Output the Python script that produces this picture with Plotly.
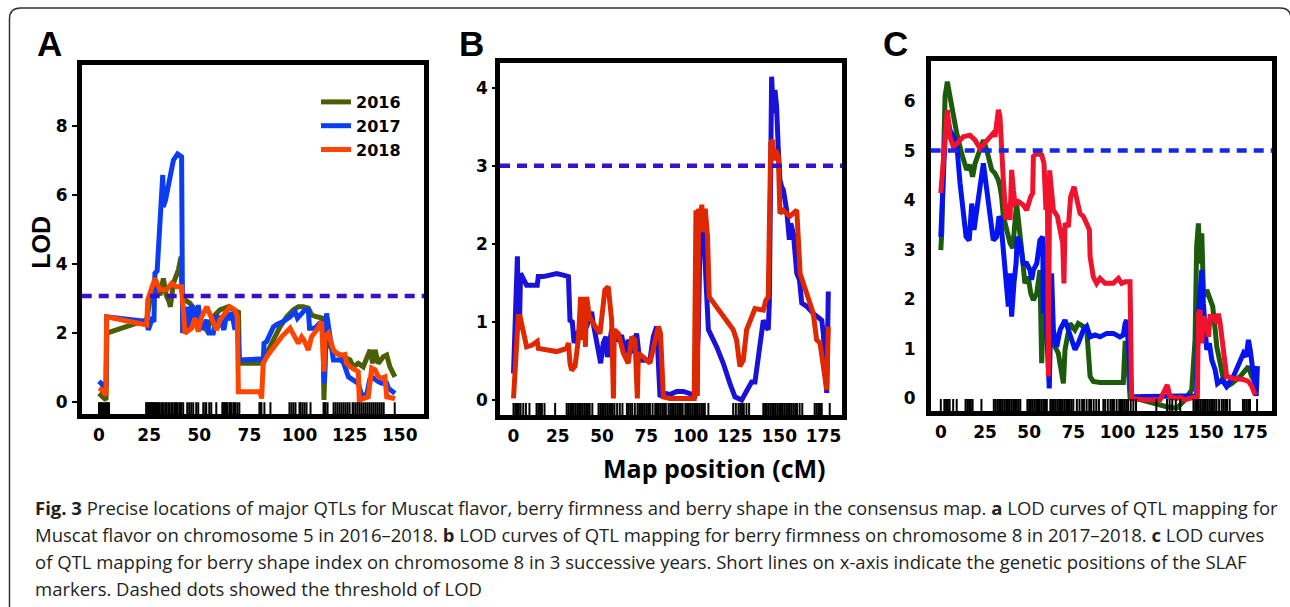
import plotly.graph_objects as go

W, H = 1290, 607

# ---------------- data ----------------
years = ["2016", "2017", "2018"]

A2016_x = [0, 1.5, 3.5, 3.9, 23.8, 25.4, 27.1, 28.8, 30.5, 32.1, 33.5, 35.0, 35.6, 37.1, 39.6, 40.9, 41.3, 42.9, 45.4, 47.9, 50.4, 53.7, 57.0, 60.3, 64.5, 67.0, 69.6, 70.0, 82.0, 83.6, 87.0, 90.3, 93.6, 96.9, 99.4, 101.9, 104.4, 106.1, 108.6, 111.6, 112.2, 113.2, 115.2, 118.5, 121.9, 125.2, 126.8, 129.3, 131.8, 135.2, 136.5, 137.7, 139.3, 141.8, 143.5, 145.1, 147.6]
A2016_y = [0.25, 0.15, 0.06, 2.0, 2.38, 2.96, 3.15, 3.25, 3.1, 3.58, 3.1, 2.9, 2.76, 3.44, 3.83, 4.21, 3.2, 2.96, 2.86, 2.67, 2.38, 2.09, 2.47, 2.67, 2.76, 2.67, 2.6, 1.12, 1.12, 1.41, 1.8, 2.18, 2.47, 2.67, 2.76, 2.76, 2.72, 2.52, 2.47, 2.43, 0.06, 2.0, 1.6, 1.41, 1.31, 1.22, 1.02, 1.12, 1.02, 1.51, 1.12, 1.51, 1.12, 1.31, 1.36, 1.02, 0.73]

A2017_x = [0, 1.5, 3.0, 3.5, 3.8, 23.8, 24.6, 26.3, 27.4, 27.9, 29.0, 30.4, 31.8, 32.1, 33.2, 37.1, 39.2, 41.2, 41.7, 43.7, 45.0, 46.2, 47.9, 49.5, 51.2, 53.7, 54.9, 57.0, 58.7, 60.3, 62.3, 63.7, 65.3, 66.2, 67.8, 68.7, 70.0, 82.0, 82.3, 83.6, 87.0, 88.7, 91.9, 95.3, 97.8, 99.0, 101.0, 102.7, 104.4, 105.0, 107.7, 110.0, 111.6, 112.4, 113.5, 116.0, 116.9, 120.2, 121.9, 124.4, 126.8, 129.3, 131.0, 133.5, 135.0, 136.7, 139.3, 141.0, 143.5, 144.3, 147.6]
A2017_y = [0.6, 0.5, 0.42, 0.4, 2.47, 2.33, 2.09, 2.38, 2.33, 3.73, 3.8, 5.57, 6.58, 5.66, 5.86, 7.01, 7.19, 7.11, 2.0, 2.76, 2.09, 2.81, 2.23, 2.81, 2.1, 2.38, 2.0, 2.0, 2.5, 2.4, 2.09, 2.57, 2.38, 2.6, 2.09, 2.5, 1.22, 1.25, 1.7, 1.75, 2.18, 2.25, 2.33, 2.47, 2.62, 2.43, 2.55, 2.67, 2.67, 2.14, 2.14, 2.28, 2.3, 0.54, 2.57, 1.6, 1.22, 1.22, 1.15, 0.73, 0.64, 0.54, 0.2, 0.2, 0.64, 0.7, 0.59, 0.54, 0.54, 0.4, 0.25]

A2018_x = [0, 1.5, 3.5, 3.8, 23.8, 24.3, 25.4, 27.9, 30.4, 33.7, 36.2, 38.7, 41.2, 42.9, 46.2, 47.9, 49.5, 51.2, 53.7, 56.2, 58.7, 60.3, 62.8, 65.3, 67.8, 69.0, 69.5, 80.3, 81.1, 81.9, 83.6, 87.0, 91.1, 95.3, 96.9, 99.4, 101.1, 102.2, 104.4, 106.0, 108.6, 111.0, 112.2, 112.7, 114.4, 116.9, 118.5, 121.0, 122.7, 123.5, 125.2, 129.3, 129.8, 132.7, 134.3, 136.0, 137.7, 139.3, 141.0, 142.6, 143.5, 147.6]
A2018_y = [0.4, 0.35, 0.2, 2.47, 2.23, 2.96, 3.15, 3.58, 3.25, 3.25, 3.44, 3.34, 3.34, 1.99, 2.14, 2.43, 2.04, 2.47, 2.76, 2.38, 2.09, 2.38, 2.57, 2.76, 2.67, 2.47, 0.3, 0.3, 0.1, 1.12, 1.31, 1.6, 1.89, 2.14, 1.99, 1.7, 1.89, 1.8, 1.51, 1.89, 2.09, 2.33, 0.88, 1.89, 1.99, 1.51, 1.41, 1.36, 1.38, 1.12, 1.02, 0.88, 0.06, 0.1, 0.15, 0.98, 0.93, 0.73, 0.69, 0.73, 0.15, 0.1]

B2017_x = [0, 1.4, 2.2, 2.7, 3.3, 4.0, 5.5, 7.4, 13.4, 14.0, 16.8, 24.4, 28.1, 31.0, 31.9, 33.2, 34.2, 35.6, 41.3, 44.1, 45.0, 46.9, 49.2, 50.7, 52.2, 53.0, 55.4, 57.5, 59.2, 61.0, 62.9, 64.8, 66.7, 69.5, 71.0, 72.3, 77.0, 78.9, 80.8, 82.7, 84.6, 88.3, 92.1, 95.9, 99.6, 102.4, 104.3, 105.3, 106.8, 107.5, 109.0, 110.0, 114.7, 118.4, 122.2, 125.0, 128.8, 131.6, 134.4, 136.3, 139.1, 141.0, 142.5, 143.8, 144.4, 144.8, 145.2, 145.7, 146.7, 147.6, 148.5, 149.5, 150.4, 151.4, 152.3, 154.2, 155.7, 156.5, 158.0, 159.9, 161.4, 162.7, 165.5, 169.2, 172.6, 174.0, 174.9, 176.8, 177.7]
B2017_y = [0.34, 1.28, 1.84, 1.07, 0.9, 1.62, 1.54, 1.47, 1.47, 1.58, 1.58, 1.62, 1.6, 1.58, 1.02, 1.0, 0.73, 0.85, 0.94, 1.13, 0.98, 0.77, 0.47, 0.73, 0.81, 0.55, 0.9, 0.78, 0.77, 0.83, 0.6, 0.77, 0.6, 0.85, 0.55, 0.51, 0.51, 0.81, 0.94, 0.04, 0.09, 0.07, 0.11, 0.11, 0.09, 0.06, 0.85, 2.05, 2.39, 2.05, 1.2, 0.9, 0.68, 0.47, 0.21, 0.04, 0.0, 0.13, 0.23, 0.23, 0.68, 1.02, 0.94, 0.9, 1.24, 1.71, 2.99, 4.14, 3.67, 3.97, 3.76, 3.2, 2.82, 2.73, 2.69, 2.43, 2.05, 2.26, 2.13, 1.62, 1.54, 1.24, 1.2, 1.11, 1.05, 1.02, 0.85, 0.09, 1.39]

B2018_x = [0, 1.4, 2.7, 3.7, 5.5, 7.4, 10.3, 13.4, 14.0, 24.4, 30.0, 31.0, 31.9, 32.8, 34.7, 36.6, 37.9, 39.0, 39.8, 40.6, 41.3, 42.8, 45.0, 46.9, 48.8, 51.6, 53.5, 55.4, 56.4, 56.9, 59.2, 62.0, 64.8, 66.7, 68.6, 69.9, 70.5, 73.3, 77.0, 81.8, 83.0, 84.6, 88.3, 95.9, 102.0, 103.0, 103.8, 104.5, 105.3, 106.3, 107.2, 108.2, 109.5, 110.5, 124.0, 125.9, 127.8, 129.7, 131.6, 136.3, 141.0, 142.5, 143.8, 144.4, 145.2, 146.3, 147.0, 148.1, 149.5, 150.4, 152.3, 156.0, 159.9, 161.8, 163.7, 169.2, 171.1, 173.0, 176.8, 177.7]
B2018_y = [0.02, 0.68, 1.07, 1.07, 0.85, 0.68, 0.7, 0.75, 0.66, 0.62, 0.66, 0.73, 0.47, 0.38, 0.43, 0.77, 1.32, 0.77, 1.32, 0.68, 1.32, 1.07, 0.98, 0.9, 0.85, 1.41, 1.45, 1.02, 0.02, 0.9, 0.85, 0.6, 0.47, 0.81, 0.77, 0.02, 0.6, 0.55, 0.47, 0.94, 0.85, 0.04, 0.02, 0.02, 0.02, 2.43, 0.05, 2.45, 2.3, 2.5, 2.15, 2.45, 2.1, 1.32, 0.9, 0.77, 0.43, 0.51, 0.9, 1.17, 1.15, 1.28, 1.32, 2.18, 3.29, 3.33, 3.07, 3.2, 3.12, 2.39, 2.43, 2.35, 2.43, 1.62, 1.49, 1.11, 0.77, 0.73, 0.13, 0.94]

C2016_x = [0, 0.6, 2.4, 3.7, 5.2, 7.1, 9.0, 11.8, 14.6, 16.5, 18.0, 19.4, 22.2, 24.1, 26.0, 28.8, 30.7, 32.6, 33.5, 34.4, 35.4, 37.3, 39.2, 40.7, 42.0, 42.9, 45.8, 47.6, 49.5, 50.9, 52.4, 54.3, 56.1, 57.1, 58.0, 58.9, 60.8, 63.7, 66.5, 69.4, 70.3, 73.1, 75.9, 77.8, 80.7, 82.6, 84.5, 86.3, 90.1, 97.6, 103.3, 104.3, 105.2, 107.1, 120.3, 127.8, 133.5, 138.2, 142.0, 143.9, 144.8, 145.8, 146.7, 147.7, 148.6, 149.6, 150.5, 152.4, 153.9, 155.3, 156.2, 158.1, 160.0, 161.8, 164.7, 169.4, 174.1, 176.0, 178.8]
C2016_y = [2.99, 3.4, 6.09, 6.39, 6.09, 5.68, 5.35, 4.94, 4.61, 4.71, 4.47, 4.74, 5.04, 5.21, 5.01, 4.61, 4.54, 4.4, 4.27, 4.07, 3.67, 3.4, 3.13, 3.03, 3.53, 3.93, 2.99, 2.32, 2.45, 2.12, 1.98, 2.12, 2.59, 0.71, 1.71, 1.38, 1.58, 1.11, 0.91, 0.3, 0.98, 1.51, 1.38, 1.51, 1.45, 1.38, 0.44, 0.34, 0.32, 0.32, 0.32, 1.11, 1.11, 0.03, -0.1, -0.17, -0.2, -0.03, 0.17, 1.18, 3.06, 3.53, 2.72, 3.33, 2.19, 2.05, 2.19, 1.98, 1.85, 1.38, 1.04, 0.71, 0.37, 0.24, 0.3, 0.44, 0.64, 0.44, 0.3]

C2017_x = [0, 1.1, 2.4, 3.7, 5.2, 7.1, 9.0, 10.9, 12.7, 14.3, 16.1, 17.5, 18.8, 20.3, 22.2, 24.1, 26.0, 28.2, 29.7, 31.6, 32.9, 33.9, 35.0, 36.3, 38.2, 39.2, 40.1, 41.4, 42.6, 43.3, 44.8, 46.7, 48.6, 50.5, 51.4, 52.4, 54.3, 56.1, 57.7, 58.0, 58.9, 59.9, 61.4, 62.7, 63.7, 65.6, 67.5, 70.3, 72.2, 76.0, 77.8, 80.7, 82.6, 84.5, 87.3, 90.1, 93.9, 97.6, 101.4, 103.3, 104.3, 105.2, 108.0, 114.6, 124.1, 135.4, 142.9, 144.8, 145.2, 146.4, 147.7, 148.6, 149.6, 150.5, 152.0, 153.4, 155.3, 156.6, 159.1, 161.8, 165.6, 169.4, 171.3, 172.8, 174.1, 175.1, 177.0, 178.5, 179.2]
C2017_y = [3.26, 4.07, 5.28, 5.68, 5.41, 5.28, 5.14, 4.34, 3.67, 3.26, 3.19, 3.93, 3.4, 3.73, 4.27, 4.74, 4.2, 3.67, 3.19, 3.26, 3.67, 3.6, 3.13, 2.39, 1.85, 2.52, 1.65, 2.32, 2.72, 3.26, 3.13, 2.72, 2.72, 2.59, 2.39, 2.59, 2.72, 3.19, 3.26, 1.71, 3.13, 1.38, 0.2, 2.52, 1.38, 1.04, 1.38, 1.58, 1.38, 0.98, 1.11, 1.38, 1.45, 1.24, 1.28, 1.24, 1.31, 1.31, 1.24, 1.28, 1.51, 1.58, 0.03, 0.03, 0.05, 0.05, 0.05, 0.05, 1.38, 2.05, 2.59, 1.92, 1.45, 0.98, 1.11, 0.77, 0.57, 0.3, 0.37, 0.24, 0.44, 0.77, 0.91, 0.84, 1.18, 0.98, 0.37, 0.05, 0.65]

C2018_x = [0, 1.1, 2.4, 3.7, 5.2, 7.1, 9.0, 12.7, 16.5, 19.4, 22.2, 26.0, 29.7, 30.7, 31.6, 32.6, 33.5, 34.4, 35.4, 36.9, 38.2, 39.2, 40.1, 41.1, 42.0, 43.9, 46.7, 48.6, 49.5, 50.9, 52.0, 52.4, 54.3, 57.1, 58.4, 59.5, 60.3, 60.9, 61.6, 62.7, 63.7, 66.0, 67.5, 69.0, 69.7, 70.3, 72.2, 73.5, 75.4, 76.9, 78.8, 80.7, 82.6, 84.1, 84.5, 86.3, 88.2, 90.1, 93.0, 97.6, 100.5, 102.4, 104.3, 107.1, 108.0, 114.6, 124.1, 126.9, 128.2, 129.7, 133.5, 135.4, 138.2, 141.0, 143.9, 145.2, 145.8, 146.7, 147.7, 148.6, 150.5, 151.5, 152.4, 154.3, 156.2, 157.1, 158.1, 160.0, 161.8, 165.6, 171.3, 174.1, 176.0, 177.9]
C2018_y = [4.14, 4.61, 5.28, 5.82, 5.28, 5.08, 5.14, 5.28, 5.31, 5.21, 5.04, 5.21, 5.35, 5.28, 5.62, 5.82, 5.68, 4.94, 4.4, 3.6, 3.93, 3.6, 4.61, 4.2, 3.93, 3.97, 3.9, 3.8, 3.93, 4.07, 4.14, 4.88, 4.94, 4.91, 4.74, 3.8, 4.47, 0.44, 4.6, 4.2, 3.8, 3.67, 3.4, 3.13, 2.32, 3.53, 3.46, 4.07, 4.27, 4.07, 3.73, 3.67, 3.53, 3.4, 2.86, 2.45, 2.32, 2.42, 2.32, 2.32, 2.42, 2.32, 2.35, 2.35, 0.0, -0.03, -0.03, 0.2, 0.27, 0.03, 0.0, 0.02, -0.03, 0.0, 0.03, 0.03, 1.71, 1.78, 1.11, 1.65, 1.51, 1.24, 1.65, 1.65, 1.51, 1.71, 1.51, 0.91, 0.44, 0.4, 0.38, 0.34, 0.24, 0.07]

# SLAF marker positions (cM)
A_markers = [0, 0.5, 1, 1.5, 2, 3, 3.5, 4, 4.5, 5, 23.5, 24, 24.5, 25, 25.5, 26, 26.5, 27, 27.5, 28, 28.5, 29, 29.5, 30, 31, 31.5, 32, 33, 33.5, 34.5, 35, 36, 36.5, 37.5, 38, 38.5, 39, 40, 40.5, 41, 42, 44, 45, 46, 47, 48.5, 49.5, 52, 53, 53.5, 55, 56, 58.5, 61.5, 62, 62.5, 63, 63.5, 64, 65, 65.5, 66, 67, 67.5, 68, 69, 70, 80, 80.5, 81, 82.5, 85.5, 95, 96, 97, 98, 100, 100.5, 101.5, 102.5, 103.5, 105.5, 112, 112.5, 113, 114, 117, 118, 119, 120, 121, 122, 123, 124, 125, 126.5, 127, 128, 129, 130, 131, 132, 133, 134, 135, 136, 137, 138, 139, 140, 141, 142, 147.5]
B_markers = [0, 1, 2, 3, 4, 5.5, 7, 9, 13, 14, 15, 16, 17.5, 23.5, 30, 31, 32, 33, 34, 35, 36, 37, 38, 39, 40, 41, 42, 43, 44.5, 48, 49, 50, 51, 52, 53, 54, 55, 56, 57, 58.5, 60, 61.5, 64, 65, 66, 67, 68.5, 70, 71, 72, 73, 74, 75, 76, 77, 78.5, 80, 81, 82, 83, 84, 85, 86, 87.5, 88.5, 89.5, 90.5, 91.5, 92.5, 93.5, 94.5, 95.5, 97, 98, 99, 100, 101, 102, 103, 104, 105, 106, 107, 108, 110, 124, 125.5, 127, 128, 129, 130, 131.5, 133, 141, 142, 143, 144, 145, 146, 147, 148, 149, 150, 151, 152, 153, 154, 155, 156, 157, 158, 159, 160, 161.5, 163, 170, 171, 172, 173, 174, 178.5]
C_markers = [0, 2, 3, 4, 5, 7, 9, 14, 15, 16, 17, 18, 23, 30, 31, 32, 33, 34, 35, 36, 37, 38, 39, 40, 41, 42, 43, 44, 45, 49, 50, 51, 52, 53, 54, 55, 56, 57, 58, 59, 60, 62, 63, 64, 65, 66, 67, 68, 69, 70, 71, 72, 73, 74, 75, 77, 78.5, 80, 81, 82.5, 84, 85, 86.5, 88, 89.5, 92, 93, 94.5, 96, 97, 98, 99.5, 101, 102, 103, 104, 105, 106, 107.5, 109, 110.5, 122, 128, 129.5, 131, 133, 135.5, 143, 144, 145, 146, 147, 148, 149, 150, 151, 152, 153, 154, 155, 156, 157.5, 159, 160, 161, 162, 163.5, 171, 172, 173, 174, 175, 179]

A_threshold = 3.07
B_threshold = 3.0
C_threshold = 5.0

A_xticks = [0, 25, 50, 75, 100, 125, 150]
BC_xticks = [0, 25, 50, 75, 100, 125, 150, 175]
A_yticks = [0, 2, 4, 6, 8]
B_yticks = [0, 1, 2, 3, 4]
C_yticks = [0, 1, 2, 3, 4, 5, 6]

# ---------------- layout geometry (pixels) ----------------
geo = {
    "A": dict(l=81.7, r=424.3, t=65.0, b=414.3, x0=99.0, xs=2.005, y0=402.0, ys=34.5),
    "B": dict(l=500.0, r=842.3, t=62.7, b=415.0, x0=513.5, xs=1.7716, y0=400.0, ys=78.1),
    "C": dict(l=930.7, r=1272.3, t=60.7, b=411.0, x0=940.8, xs=1.7669, y0=398.3, ys=49.55),
}

def ranges(g):
    xr = [(g["l"] - g["x0"]) / g["xs"], (g["r"] - g["x0"]) / g["xs"]]
    yr = [(g["y0"] - g["b"]) / g["ys"], (g["y0"] - g["t"]) / g["ys"]]
    return xr, yr

fig = go.Figure()

tick_font = dict(family="DejaVu Sans", size=17, color="black", weight="bold")

panels = [
    ("A", "x", "y", A_xticks, A_yticks, A_threshold, "#3a0fc8", A_markers,
     [(A2016_x, A2016_y, "#4b5e05", "2016"), (A2017_x, A2017_y, "#0b3df5", "2017"), (A2018_x, A2018_y, "#ff4500", "2018")], 5),
    ("B", "x2", "y2", BC_xticks, B_yticks, B_threshold, "#3a10cc", B_markers,
     [(B2017_x, B2017_y, "#1a12d8", "2017"), (B2018_x, B2018_y, "#e02800", "2018")], 3),
    ("C", "x3", "y3", BC_xticks, C_yticks, C_threshold, "#1428e8", C_markers,
     [(C2016_x, C2016_y, "#1c5a0c", "2016"), (C2017_x, C2017_y, "#0414f0", "2017"), (C2018_x, C2018_y, "#f0132e", "2018")], 0),
]

shapes = []
for key, xa, ya, xt, yt, thr, thr_col, markers, series, tlen in panels:
    g = geo[key]
    xr, yr = ranges(g)
    sfx = "" if xa == "x" else xa[1:]
    for xs_, ys_, col, name in series:
        fig.add_trace(go.Scatter(x=xs_, y=ys_, mode="lines", name=name,
                                 line=dict(color=col, width=5),
                                 xaxis=xa, yaxis=ya, showlegend=(key == "A")))
    # rug of SLAF marker positions, sitting on the bottom frame
    rug_y = yr[0] + 5.0 / g["ys"]
    fig.add_trace(go.Scatter(x=markers, y=[rug_y] * len(markers), mode="markers",
                             marker=dict(symbol="line-ns-open", size=10, color="black",
                                         line=dict(width=2, color="black")),
                             xaxis=xa, yaxis=ya, showlegend=False, hoverinfo="skip"))
    shapes.append(dict(type="line", xref=f"x{sfx} domain", yref=ya, x0=0, x1=1,
                       y0=thr, y1=thr, line=dict(color=thr_col, width=4.5, dash="10px,7px")))
    dom_x = [g["l"] / W, g["r"] / W]
    dom_y = [1 - g["b"] / H, 1 - g["t"] / H]
    fig.layout["xaxis" + sfx] = dict(domain=dom_x, range=xr, anchor=ya, tickvals=xt,
                                     ticks="", showgrid=False, zeroline=False,
                                     showline=True, mirror=True, linewidth=4.5, linecolor="black",
                                     tickfont=tick_font, ticklabelstandoff=2)
    fig.layout["yaxis" + sfx] = dict(domain=dom_y, range=yr, anchor=xa, tickvals=yt,
                                     ticks="outside" if tlen else "", ticklen=tlen, tickwidth=2,
                                     tickcolor="black", showgrid=False, zeroline=False,
                                     showline=True, mirror=True, linewidth=4.5, linecolor="black",
                                     tickfont=tick_font,
                                     ticklabelstandoff=(1 if tlen else 7))

# outer rounded border
r = 11
x_l, x_r, y_t, y_b = 9.5, 1291, 8.0, 620
path = (f"M {x_l/W},{1-y_b/H} L {x_l/W},{1-(y_t+r)/H} Q {x_l/W},{1-y_t/H} {(x_l+r)/W},{1-y_t/H} "
        f"L {(x_r-r)/W},{1-y_t/H} Q {x_r/W},{1-y_t/H} {x_r/W},{1-(y_t+r)/H} L {x_r/W},{1-y_b/H}")
shapes.append(dict(type="path", xref="paper", yref="paper", path=path,
                   line=dict(color="#333333", width=1.5)))

ann = []
def txt(px, py, text, size, family, bold=False, angle=0, xanchor="center", color="black"):
    ann.append(dict(x=px / W, y=1 - py / H, xref="paper", yref="paper", text=text,
                    showarrow=False, textangle=angle, xanchor=xanchor, yanchor="middle",
                    font=dict(size=size, family=family, color=color,
                              weight="bold" if bold else "normal")))

txt(49, 44, "A", 35, "Liberation Sans", True)
txt(471.5, 44, "B", 35, "Liberation Sans", True)
txt(895, 44, "C", 35, "Liberation Sans", True)
txt(40.7, 242, "LOD", 25, "Liberation Sans", True, angle=-90)
txt(714, 468, "Map position (cM)", 25, "Open Sans", True)

cap = [
    "<b>Fig. 3</b> Precise locations of major QTLs for Muscat flavor, berry firmness and berry shape in the consensus map. <b>a</b> LOD curves of QTL mapping for",
    "Muscat flavor on chromosome 5 in 2016–2018. <b>b</b> LOD curves of QTL mapping for berry firmness on chromosome 8 in 2017–2018. <b>c</b> LOD curves",
    "of QTL mapping for berry shape index on chromosome 8 in 3 successive years. Short lines on x-axis indicate the genetic positions of the SLAF",
    "markers. Dashed dots showed the threshold of LOD",
]
for i, line in enumerate(cap):
    txt(33, 507 + 27 * i, line, 18.5, "Open Sans", False, xanchor="left", color="#231f20")

fig.update_layout(
    width=W, height=H, margin=dict(l=0, r=0, t=0, b=0),
    paper_bgcolor="white", plot_bgcolor="white",
    shapes=shapes, annotations=ann,
    legend=dict(x=316 / W, y=1 - 85 / H, xanchor="left", yanchor="top",
                bgcolor="rgba(0,0,0,0)", borderwidth=0, tracegroupgap=0,
                font=dict(family="DejaVu Sans", size=16, color="black", weight="bold"),
                itemwidth=30),
)

fig.write_html("out.html")
